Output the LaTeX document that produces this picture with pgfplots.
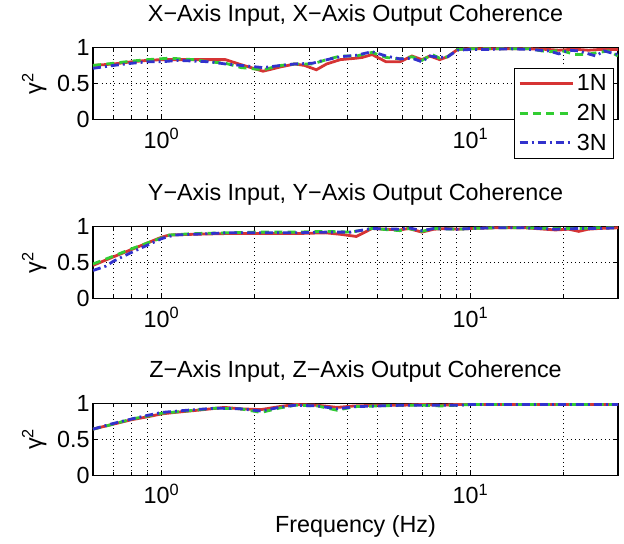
\documentclass[border=0pt]{standalone}
\usepackage{fontspec}
\setmainfont{Liberation Sans}
\usepackage{pgfplots}
\pgfplotsset{compat=1.18}

\definecolor{cred}{RGB}{214,52,52}
\definecolor{cgreen}{RGB}{50,205,50}
\definecolor{cblue}{RGB}{50,50,205}
\newcommand{\fs}{\fontsize{17.5}{21}\selectfont}

\tikzset{
  lineA/.style={cred, line width=2.1pt, solid},
  lineB/.style={cgreen, line width=2.1pt, dash pattern=on 6pt off 4pt},
  lineC/.style={cblue, line width=2.1pt, dash pattern=on 6pt off 3pt on 1.5pt off 3pt},
}
\pgfplotsset{every axis/.append style={
    scale only axis, width=393.75pt, height=54.3pt,
    xmin=0.6, xmax=30, ymin=0, ymax=1,
    xtick={1,10}, xticklabels={10\textsuperscript{0},10\textsuperscript{1}},
    ytick={0,0.5,1}, yticklabels={0,0.5,1},
    minor xtick={0.7,0.8,0.9,2,3,4,5,6,7,8,9,20},
    tick align=inside, major tick length=4pt, minor tick length=2.5pt,
    xmajorgrids, xminorgrids, ymajorgrids,
    grid style={black, line width=0.4pt, dash pattern=on 0.6pt off 2.6pt},
    axis line style={line width=0.8pt},
    tick style={black, line width=0.5pt},
    ticklabel style={font=\fs},
    xticklabel style={anchor=north, yshift=-3pt},
    yticklabel style={xshift=1pt},
    title style={font=\fs, at={(axis description cs:0.5,1)}, anchor=center, yshift=18pt},
    ylabel={γ\textsuperscript{2}},
    ylabel style={font=\fs, at={(axis description cs:-0.112,0.5)}, anchor=center, rotate=0},
    label style={font=\fs},
}}

\begin{document}
\begin{tikzpicture}
% ---------------- X axis ----------------
\begin{semilogxaxis}[at={(0pt,0pt)}, anchor=north west,
  title={X\textminus Axis Input, X\textminus Axis Output Coherence},
  legend image code/.code={\draw[mark repeat=2,mark phase=2,#1] plot coordinates {(0cm,0cm) (0.7cm,0cm) (1.4cm,0cm)};},
  legend style={at={(axis description cs:0.992,0.72)}, anchor=north east, draw=black, line width=0.7pt,
    font=\fs, row sep=4.5pt, inner sep=3pt},
  legend cell align=left]
\addplot[lineA] coordinates {
(0.6,0.75) (0.7,0.77) (0.8,0.80) (0.9,0.82) (1.0,0.83) (1.13,0.83) (1.27,0.83) (1.43,0.83) (1.61,0.83)
(1.81,0.76) (2.13,0.67) (2.43,0.73) (2.70,0.77) (2.90,0.75) (3.17,0.69) (3.42,0.77) (3.79,0.83)
(4.27,0.85) (4.46,0.86) (4.80,0.90) (5.33,0.80) (5.91,0.80) (6.46,0.88) (6.96,0.83) (7.38,0.88)
(7.95,0.83) (8.43,0.87) (9.07,0.97) (9.95,0.98) (11.5,0.98) (13.4,0.98) (15.5,0.98) (17.9,0.97)
(19.3,0.96) (20.8,0.97) (22.4,0.97) (24.1,0.96) (26.0,0.97) (28.0,0.97) (30,0.97)};
\addlegendentry{1N}
\addplot[lineB] coordinates {
(0.6,0.75) (0.7,0.78) (0.8,0.81) (0.9,0.83) (1.06,0.85) (1.27,0.83) (1.43,0.80) (1.61,0.78)
(1.81,0.72) (2.13,0.69) (2.43,0.75) (2.70,0.77) (3.08,0.77) (3.42,0.83) (3.79,0.88) (4.27,0.88)
(4.80,0.93) (5.33,0.86) (5.91,0.84) (6.46,0.87) (6.96,0.82) (7.5,0.90) (7.95,0.85) (8.43,0.87)
(9.07,0.97) (9.95,0.98) (11.5,0.98) (13.4,0.98) (15.7,0.98) (17.0,0.95) (18.2,0.94) (19.5,0.96)
(21.8,0.90) (23.6,0.90) (26.0,0.93) (28.0,0.95) (30,0.88)};
\addlegendentry{2N}
\addplot[lineC] coordinates {
(0.6,0.71) (0.7,0.75) (0.8,0.78) (0.9,0.80) (1.0,0.80) (1.13,0.82) (1.43,0.80) (1.61,0.77)
(1.81,0.75) (2.13,0.72) (2.43,0.75) (2.70,0.77) (3.08,0.78) (3.27,0.81) (3.79,0.87) (4.27,0.89)
(4.80,0.94) (5.33,0.88) (5.91,0.84) (6.46,0.85) (6.96,0.80) (7.38,0.88) (7.95,0.86) (8.43,0.87)
(9.07,0.96) (9.95,0.97) (11.5,0.97) (13.4,0.98) (15.5,0.97) (17.9,0.95) (19.3,0.91) (20.8,0.96)
(22.4,0.95) (25.4,0.88) (27.0,0.95) (30,0.90)};
\addlegendentry{3N}
\end{semilogxaxis}

% ---------------- Y axis ----------------
\begin{semilogxaxis}[at={(0pt,-134.25pt)}, anchor=north west,
  title={Y\textminus Axis Input, Y\textminus Axis Output Coherence}]
\addplot[lineA] coordinates {
(0.6,0.46) (0.7,0.58) (0.8,0.68) (0.9,0.77) (1.0,0.85) (1.06,0.88) (1.27,0.89) (1.61,0.90) (2.0,0.90)
(2.7,0.90) (3.4,0.91) (3.79,0.89) (4.27,0.86) (4.80,0.97) (5.33,0.96) (5.91,0.95) (6.3,0.97)
(6.96,0.92) (7.6,0.96) (8.4,0.97) (9.07,0.96) (10,0.97) (12,0.98) (15,0.98) (18.8,0.95) (20.8,0.96)
(22.4,0.93) (24,0.96) (26,0.97) (30,0.98)};
\addplot[lineB] coordinates {
(0.6,0.48) (0.7,0.59) (0.8,0.69) (0.9,0.77) (1.0,0.84) (1.06,0.88) (1.27,0.90) (1.61,0.91) (2.0,0.92)
(2.7,0.92) (3.4,0.93) (4.1,0.92) (4.8,0.97) (5.91,0.94) (6.3,0.97) (6.96,0.93) (7.6,0.97) (9.07,0.96)
(10,0.97) (12,0.98) (15,0.98) (18.8,0.97) (22.4,0.97) (26,0.98) (30,0.98)};
\addplot[lineC] coordinates {
(0.6,0.39) (0.66,0.45) (0.7,0.52) (0.8,0.64) (0.9,0.74) (1.0,0.83) (1.1,0.88) (1.27,0.89) (1.61,0.91)
(2.0,0.91) (2.7,0.91) (3.4,0.92) (4.1,0.92) (4.8,0.97) (5.91,0.96) (6.3,0.98) (6.96,0.94) (7.6,0.97)
(9.07,0.96) (10,0.97) (12,0.98) (15,0.98) (18.8,0.96) (22.4,0.97) (26,0.97) (30,0.98)};
\end{semilogxaxis}

% ---------------- Z axis ----------------
\begin{semilogxaxis}[at={(0pt,-266.8pt)}, anchor=north west,
  title={Z\textminus Axis Input, Z\textminus Axis Output Coherence},
  xlabel={Frequency (Hz)},
  xlabel style={at={(axis description cs:0.5,-0.709)}, anchor=center}]
\addplot[lineA] coordinates {
(0.6,0.64) (0.7,0.71) (0.8,0.77) (0.9,0.81) (1.0,0.85) (1.1,0.87) (1.3,0.90) (1.6,0.94) (1.8,0.92)
(2.1,0.91) (2.4,0.95) (2.7,0.98) (3.2,0.97) (3.7,0.94) (4.2,0.96) (5.0,0.97) (6.0,0.97) (7.0,0.98)
(8.0,0.97) (9.0,0.98) (10,0.98) (15,0.98) (20,0.98) (30,0.98)};
\addplot[lineB] coordinates {
(0.6,0.64) (0.7,0.71) (0.8,0.78) (0.9,0.82) (1.0,0.86) (1.2,0.89) (1.5,0.93) (1.8,0.92) (2.1,0.87)
(2.4,0.93) (2.7,0.97) (3.2,0.96) (3.7,0.90) (4.2,0.95) (5.0,0.96) (6.0,0.97) (7.0,0.97) (8.0,0.96)
(9.0,0.97) (10,0.98) (15,0.98) (20,0.98) (30,0.98)};
\addplot[lineC] coordinates {
(0.6,0.64) (0.7,0.72) (0.8,0.78) (0.9,0.83) (1.0,0.87) (1.2,0.90) (1.5,0.93) (1.8,0.92) (2.1,0.89)
(2.4,0.94) (2.7,0.97) (3.2,0.96) (3.7,0.92) (4.2,0.95) (5.0,0.96) (6.0,0.97) (7.0,0.97) (8.0,0.97)
(9.0,0.97) (10,0.98) (15,0.98) (20,0.98) (30,0.98)};
\end{semilogxaxis}
\path[use as bounding box] (-69.75pt,29.5pt) rectangle (398.25pt,-371.8pt);
\end{tikzpicture}
\end{document}
